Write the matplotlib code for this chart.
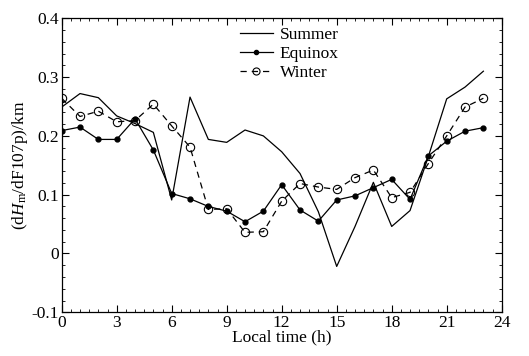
import matplotlib
matplotlib.use('Agg')
import matplotlib.pyplot as plt
from matplotlib.ticker import MultipleLocator, FuncFormatter

plt.rcParams['font.family'] = 'Liberation Serif'
plt.rcParams['mathtext.fontset'] = 'custom'
plt.rcParams['mathtext.rm'] = 'Liberation Serif'
plt.rcParams['mathtext.it'] = 'Liberation Serif:italic'

# Daten
hours = list(range(24))
summer = [0.249, 0.272, 0.265, 0.234, 0.221, 0.206, 0.091, 0.266, 0.194, 0.189,
          0.210, 0.200, 0.173, 0.136, 0.071, -0.022, 0.046, 0.121, 0.046, 0.073,
          0.165, 0.263, 0.283, 0.310]
equinox = [0.209, 0.215, 0.194, 0.194, 0.229, 0.176, 0.102, 0.093, 0.080, 0.072,
           0.054, 0.072, 0.117, 0.074, 0.055, 0.091, 0.098, 0.112, 0.126, 0.092,
           0.166, 0.191, 0.208, 0.214]
winter = [0.264, 0.233, 0.242, 0.224, 0.226, 0.254, 0.217, 0.181, 0.075, 0.076,
          0.036, 0.037, 0.089, 0.119, 0.113, 0.109, 0.129, 0.142, 0.095, 0.104,
          0.153, 0.200, 0.249, 0.264]

fig = plt.figure(figsize=(5.29, 3.56), dpi=100)
ax = fig.add_axes([0.1166, 0.1228, 0.8318, 0.8258])

ax.plot(hours, summer, color='black', lw=0.9, label='Summer')
ax.plot(hours, equinox, color='black', lw=0.9, marker='o', markersize=3.5, label='Equinox')
ax.plot(hours, winter, color='black', lw=0.9, ls=(0, (5, 4)), marker='o', markersize=6,
        markerfacecolor='none', markeredgewidth=0.8, label='Winter')

ax.set_xlim(0, 24)
ax.set_ylim(-0.1, 0.4)
ax.xaxis.set_major_locator(MultipleLocator(3))
ax.xaxis.set_minor_locator(MultipleLocator(0.5))
ax.yaxis.set_major_locator(MultipleLocator(0.1))
ax.yaxis.set_minor_locator(MultipleLocator(0.02))
ax.yaxis.set_major_formatter(FuncFormatter(lambda v, p: '0' if abs(v) < 1e-9 else f'{v:.1f}'))
ax.tick_params(which='both', direction='in', top=True, right=True, labelsize=12.5)
ax.tick_params(which='major', length=5, width=0.8, pad=2)
ax.tick_params(which='minor', length=2.5, width=0.6)
for s in ax.spines.values():
    s.set_linewidth(0.9)

ax.set_xlabel('Local time (h)', fontsize=12.5, labelpad=-1)
ax.set_ylabel('(d$H_\\mathrm{m}$/dF107p)/km', fontsize=12.5, labelpad=1)

ax.legend(loc='upper left', bbox_to_anchor=(0.385, 1.0), frameon=False, fontsize=12.5,
          handlelength=1.9, handletextpad=0.4, labelspacing=0.15, borderaxespad=0.1,
          markerscale=0.85)

fig.savefig('out.png', dpi=100)
